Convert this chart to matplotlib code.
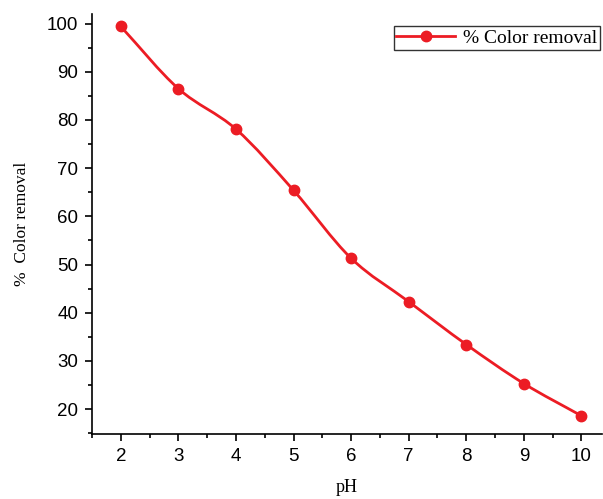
import matplotlib.pyplot as plt
import numpy as np
from matplotlib.path import Path
from matplotlib.patches import PathPatch
from matplotlib.lines import Line2D

ph = [2, 3, 4, 5, 6, 7, 8, 9, 10]
removal = [99.4, 86.5, 78.1, 65.4, 51.3, 42.3, 33.4, 25.3, 18.6]

red = '#ec1c24'

fig = plt.figure(figsize=(6.03, 4.99), dpi=100)
ax = fig.add_axes([0.1526, 0.130, 0.845, 0.842])

# smooth curve through the points: cubic Bezier segments (Catmull-Rom tangents)
x = np.array(ph, dtype=float)
y = np.array(removal, dtype=float)
n = len(x)
tx = np.zeros(n)
ty = np.zeros(n)
for i in range(n):
    a = max(i - 1, 0)
    b = min(i + 1, n - 1)
    tx[i] = (x[b] - x[a]) / (b - a)
    ty[i] = (y[b] - y[a]) / (b - a)
verts = [(x[0], y[0])]
codes = [Path.MOVETO]
for i in range(n - 1):
    verts += [(x[i] + tx[i] / 3, y[i] + ty[i] / 3),
              (x[i + 1] - tx[i + 1] / 3, y[i + 1] - ty[i + 1] / 3),
              (x[i + 1], y[i + 1])]
    codes += [Path.CURVE4] * 3
ax.add_patch(PathPatch(Path(verts, codes), fill=False, edgecolor=red, lw=2.0))
ax.plot(ph, removal, linestyle='none', marker='o', ms=7.5, color=red)

ax.set_xlim(1.5, 10.35)
ax.set_ylim(14.8, 102)
ax.set_xticks(range(2, 11))
ax.set_xticks(np.arange(1.5, 10.5, 0.5), minor=True)
ax.set_yticks(range(20, 101, 10))
ax.set_yticks(range(15, 101, 5), minor=True)

for s in ['top', 'right']:
    ax.spines[s].set_visible(False)
for s in ['left', 'bottom']:
    ax.spines[s].set_linewidth(1.2)
ax.tick_params(which='major', direction='out', length=5, width=1.2, labelsize=13.5, pad=5)
ax.tick_params(which='minor', direction='out', length=3, width=1.2)
for lab in ax.get_xticklabels() + ax.get_yticklabels():
    lab.set_family('Liberation Sans')

ax.set_xlabel('pH', family='Liberation Serif', fontsize=13, labelpad=10)
ax.set_ylabel('%  Color removal', family='Liberation Serif', fontsize=12.5, labelpad=12)

handle = Line2D([], [], color=red, lw=2.0, marker='o', ms=7.5)
leg = ax.legend([handle], ['% Color removal'], loc='upper right',
                bbox_to_anchor=(1.0, 0.975), prop={'family': 'Liberation Serif', 'size': 14},
                frameon=True, fancybox=False, edgecolor='black', handlelength=3.0,
                borderpad=0.15, handletextpad=0.4, borderaxespad=0.1)
leg.get_frame().set_linewidth(1.0)

fig.savefig('out.png', dpi=100)
